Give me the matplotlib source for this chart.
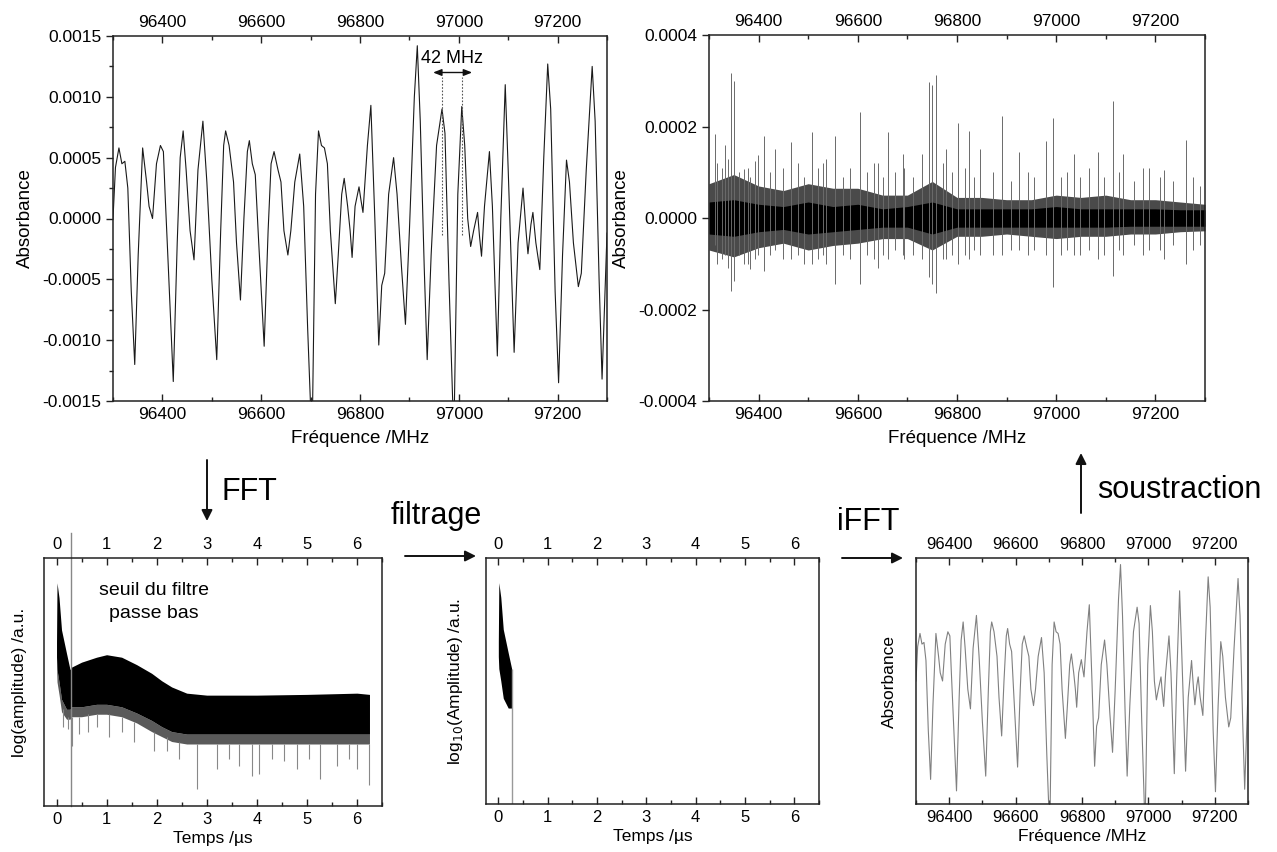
import matplotlib
matplotlib.use('Agg')
import matplotlib.pyplot as plt
import numpy as np
from matplotlib.ticker import MultipleLocator, FormatStrFormatter
from matplotlib.patches import FancyArrowPatch

plt.rcParams['font.family'] = ['Liberation Sans', 'DejaVu Sans']
plt.rcParams['axes.unicode_minus'] = False

# ---------------- data ----------------
# Absorption spectrum (MHz, absorbance x1e-3)
spec_freq = [96300, 96305, 96312, 96318, 96324, 96330, 96337, 96344, 96351, 96360,
             96368, 96373, 96380, 96388, 96396, 96402, 96406, 96412, 96422, 96430,
             96436, 96442, 96448, 96456, 96464, 96472, 96482, 96490, 96500, 96510,
             96518, 96524, 96528, 96535, 96544, 96550, 96558, 96565, 96572, 96576,
             96582, 96588, 96595, 96606, 96614, 96620, 96626, 96634, 96640, 96646,
             96654, 96660, 96668, 96678, 96686, 96694, 96700, 96704, 96710, 96716,
             96722, 96728, 96734, 96740, 96750, 96756, 96763, 96768, 96775, 96780,
             96784, 96790, 96798, 96802, 96806, 96815, 96822, 96830, 96838, 96844,
             96850, 96858, 96868, 96875, 96884, 96892, 96900, 96910, 96916, 96922,
             96930, 96936, 96944, 96955, 96966, 96972, 96980, 96988, 96991, 96998,
             97006, 97012, 97018, 97024, 97030, 97038, 97042, 97046, 97052, 97062,
             97068, 97078, 97085, 97094, 97100, 97112, 97120, 97130, 97136, 97140,
             97146, 97150, 97156, 97164, 97172, 97180, 97186, 97195, 97202, 97210,
             97218, 97224, 97232, 97242, 97248, 97258, 97270, 97276, 97284, 97290,
             97296, 97300]
spec_abs = [0.0, 0.42, 0.58, 0.45, 0.47, 0.25, -0.6, -1.20, -0.3, 0.58,
            0.3, 0.1, 0.0, 0.45, 0.6, 0.55, 0.15, -0.4, -1.34, -0.2,
            0.5, 0.72, 0.4, -0.1, -0.34, 0.4, 0.80, 0.3, -0.5, -1.16,
            -0.1, 0.6, 0.72, 0.6, 0.3, -0.2, -0.67, 0.0, 0.55, 0.64,
            0.45, 0.36, -0.2, -1.05, -0.1, 0.45, 0.55, 0.4, 0.3, -0.1,
            -0.30, -0.1, 0.3, 0.53, 0.1, -0.9, -1.55, -1.55, 0.2, 0.72,
            0.6, 0.58, 0.45, -0.1, -0.70, -0.3, 0.2, 0.33, 0.1, -0.1,
            -0.32, 0.1, 0.26, 0.15, 0.05, 0.6, 0.93, 0.0, -1.04, -0.55,
            -0.45, 0.2, 0.50, 0.2, -0.4, -0.87, -0.1, 1.0, 1.42, 0.8,
            -0.4, -1.16, -0.3, 0.6, 0.90, 0.7, -0.5, -1.55, -1.55, 0.2,
            0.92, 0.6, 0.0, -0.23, -0.1, 0.05, -0.15, -0.31, 0.1, 0.55,
            0.1, -1.13, 0.0, 1.10, 0.4, -1.10, -0.2, 0.25, -0.1, -0.29,
            -0.05, 0.05, -0.2, -0.42, 0.5, 1.27, 0.9, -0.6, -1.35, -0.3,
            0.48, 0.3, -0.2, -0.56, -0.45, 0.4, 1.25, 0.8, -0.5, -1.32,
            -0.6, -0.12]
split_peaks = [96965, 97007]   # the two lines 42 MHz apart

# Residual after subtraction: noise band envelopes (x1e-4)
res_freq = [96300, 96350, 96400, 96450, 96500, 96550, 96600, 96650, 96700, 96750, 96800,
            96850, 96900, 96950, 97000, 97050, 97100, 97150, 97200, 97250, 97300]
res_out_top = [0.75, 0.95, 0.7, 0.6, 0.75, 0.65, 0.65, 0.5, 0.5, 0.8, 0.45,
               0.45, 0.4, 0.4, 0.5, 0.45, 0.5, 0.4, 0.4, 0.35, 0.3]
res_out_bot = [-0.7, -0.85, -0.65, -0.55, -0.7, -0.6, -0.55, -0.45, -0.45, -0.7, -0.4,
               -0.4, -0.35, -0.4, -0.45, -0.4, -0.4, -0.35, -0.35, -0.3, -0.28]
res_in_top = [0.35, 0.4, 0.3, 0.25, 0.35, 0.25, 0.3, 0.2, 0.25, 0.35, 0.2,
              0.2, 0.2, 0.2, 0.25, 0.2, 0.2, 0.2, 0.2, 0.18, 0.18]
res_in_bot = [-0.35, -0.4, -0.3, -0.25, -0.35, -0.3, -0.25, -0.2, -0.2, -0.35, -0.2,
              -0.2, -0.2, -0.2, -0.2, -0.2, -0.2, -0.18, -0.18, -0.18, -0.18]
# Residual spikes (MHz, top x1e-4, bottom x1e-4)
spike_freq = [96313, 96333, 96345, 96350, 96370, 96383, 96398, 96411, 96434, 96466,
              96508, 96529, 96554, 96604, 96640, 96660, 96692, 96729, 96744, 96750,
              96757, 96777, 96803, 96825, 96847, 96890, 96925, 96980, 96994, 97035,
              97085, 97115, 97135, 97187, 97218, 97261,
              96317, 96326, 96339, 96361, 96379, 96392, 96422, 96449, 96479, 96492,
              96519, 96536, 96571, 96584, 96619, 96632, 96650, 96676, 96694, 96711,
              96772, 96790, 96816, 96834, 96873, 96908, 96943, 96956, 97009, 97022,
              97048, 97066, 97096, 97127, 97157, 97175, 97210, 97236, 97276, 97289]
spike_top = [1.84, 1.6, 3.17, 3.0, 1.07, 0.9, 1.38, 1.8, 1.5, 1.66,
             1.88, 1.2, 1.8, 2.31, 1.2, 1.89, 1.4, 1.4, 2.98, 2.9,
             3.13, 1.5, 2.08, 1.9, 1.5, 2.24, 1.45, 1.69, 2.19, 1.4,
             1.45, 2.55, 1.4, 1.1, 1.05, 1.71,
             1.2, 1.1, 1.3, 1.0, 1.1, 1.25, 1.0, 1.1, 1.2, 0.9,
             1.1, 1.3, 0.9, 1.1, 1.0, 1.2, 0.9, 1.0, 1.1, 0.9,
             1.2, 1.0, 1.1, 0.9, 1.0, 0.8, 1.0, 0.9, 0.9, 1.0,
             0.9, 1.1, 0.9, 1.0, 0.8, 1.1, 0.9, 0.8, 0.9, 0.7]
spike_bot = [-0.6, -0.8, -1.6, -1.37, -1.0, -1.12, -0.8, -1.15, -0.7, -0.9,
             -1.0, -0.8, -1.45, -1.45, -1.1, -0.9, -0.8, -0.9, -1.3, -1.45,
             -1.64, -0.9, -1.0, -0.9, -0.8, -0.8, -0.7, -0.8, -1.5, -0.8,
             -0.9, -1.26, -0.8, -0.7, -0.9, -1.0,
             -1.0, -0.9, -1.1, -0.8, -1.0, -0.9, -0.8, -0.9, -0.8, -1.0,
             -0.9, -1.0, -0.8, -0.9, -0.8, -0.9, -0.8, -0.7, -0.9, -0.8,
             -0.9, -0.8, -0.8, -0.7, -0.8, -0.7, -0.8, -0.7, -0.8, -0.7,
             -0.8, -0.7, -0.8, -0.7, -0.6, -0.8, -0.7, -0.6, -0.7, -0.6]

# FFT magnitude (log, arbitrary units 0-10) versus time (us)
fft_t = [0.0, 0.01, 0.05, 0.1, 0.2, 0.27, 0.3, 0.5, 0.8, 1.0, 1.3, 1.6, 1.9, 2.1,
         2.3, 2.6, 3.0, 4.0, 5.0, 6.0, 6.25]
fft_upper = [6.6, 9.0, 8.4, 7.1, 6.15, 5.5, 5.6, 5.8, 6.0, 6.1, 6.0, 5.7, 5.35, 5.05,
             4.8, 4.55, 4.47, 4.47, 4.5, 4.55, 4.5]
fft_lower = [6.0, 5.5, 5.0, 4.3, 3.9, 3.9, 4.0, 4.0, 4.1, 4.1, 4.0, 3.75, 3.45, 3.2,
             3.0, 2.9, 2.9, 2.9, 2.9, 2.9, 2.9]
fft_fringe = [5.6, 5.0, 4.5, 3.8, 3.5, 3.5, 3.6, 3.6, 3.7, 3.7, 3.6, 3.35, 3.0, 2.8,
              2.6, 2.5, 2.5, 2.5, 2.5, 2.5, 2.5]
fft_spike_t = [0.12, 0.22, 0.3, 0.45, 0.62, 0.8, 1.05, 1.3, 1.55, 1.95, 2.2, 2.45,
               2.8, 3.2, 3.45, 3.65, 3.9, 4.05, 4.3, 4.55, 4.8, 5.05, 5.27, 5.6,
               5.85, 6.0, 6.25]
fft_spike_high = [3.9, 3.6, 3.6, 3.6, 3.7, 3.7, 3.7, 3.6, 3.4, 3.0, 2.8, 2.6,
                  2.5, 2.5, 2.5, 2.5, 2.5, 2.5, 2.5, 2.5, 2.5, 2.5, 2.5, 2.5,
                  2.5, 2.5, 2.5]
fft_spike_low = [3.2, 3.1, 2.4, 2.9, 3.0, 3.2, 2.8, 3.0, 2.6, 2.2, 2.2, 1.9,
                 0.67, 1.5, 1.9, 1.6, 1.2, 1.3, 1.9, 1.8, 1.5, 1.9, 1.1, 1.6,
                 1.9, 1.5, 0.85]
cutoff_t = 0.28        # low-pass threshold (us)

# ---------------- figure ----------------
W, H = 1277, 852
fig = plt.figure(figsize=(W / 100, H / 100), dpi=100)


def add_ax(x0, y0, x1, y1):
    return fig.add_axes([x0 / W, 1 - y1 / H, (x1 - x0) / W, (y1 - y0) / H])


def style(ax, xmaj, xmin, fs, yticks=True, ymaj=None, ymin=None):
    for s in ax.spines.values():
        s.set_linewidth(1.1)
        s.set_color('#222222')
    ax.xaxis.set_major_locator(MultipleLocator(xmaj))
    ax.xaxis.set_minor_locator(MultipleLocator(xmin))
    ax.tick_params(axis='x', which='both', direction='in', top=True, bottom=True,
                   labeltop=True, labelbottom=True, labelsize=fs, width=1.0,
                   color='#222222', pad=4)
    ax.tick_params(axis='x', which='major', length=5)
    ax.tick_params(axis='x', which='minor', length=3)
    if yticks:
        ax.yaxis.set_major_locator(MultipleLocator(ymaj))
        if ymin:
            ax.yaxis.set_minor_locator(MultipleLocator(ymin))
        ax.tick_params(axis='y', which='both', direction='out', left=True, right=False,
                       labelsize=fs, width=1.0, color='#222222')
        ax.tick_params(axis='y', which='major', length=5)
        ax.tick_params(axis='y', which='minor', length=3)
        ax.yaxis.set_major_formatter(FormatStrFormatter('%.4f'))
    else:
        ax.tick_params(axis='y', which='both', left=False, right=False,
                       labelleft=False)


sa = np.array(spec_abs) * 1e-3

# Panel 1: spectrum
ax1 = add_ax(113, 36, 607, 401)
ax1.plot(spec_freq, sa, color='#1a1a1a', lw=0.8)
ax1.set_xlim(96300, 97300)
ax1.set_ylim(-0.0015, 0.0015)
style(ax1, 200, 100, 12.5, True, 0.0005, 0.00025)
ax1.set_xlabel('Fréquence /MHz', fontsize=13.5, labelpad=6)
ax1.set_ylabel('Absorbance', fontsize=13.5, labelpad=6)
for fp in split_peaks:
    ax1.plot([fp, fp], [-0.000135, 0.00116], ls=(0, (1.5, 1.5)), color='#555555', lw=0.8)
ax1.annotate('', xy=(split_peaks[0] - 17, 0.0012), xytext=(split_peaks[1] + 20, 0.0012),
             arrowprops=dict(arrowstyle='<|-|>,head_length=0.5,head_width=0.2', lw=1.0,
                             color='#111111', shrinkA=0, shrinkB=0))
ax1.text(np.mean(split_peaks), 0.00128, '42 MHz', ha='center', va='baseline', fontsize=13)

# Panel 2: residual
ax2 = add_ax(709, 35, 1205, 401)
ax2.fill_between(res_freq, np.array(res_out_bot) * 1e-4, np.array(res_out_top) * 1e-4,
                 color='#4a4a4a', lw=0)
ax2.vlines(spike_freq, np.array(spike_bot) * 1e-4, np.array(spike_top) * 1e-4,
           color='#6a6a6a', lw=0.7)
ax2.fill_between(res_freq, np.array(res_in_bot) * 1e-4, np.array(res_in_top) * 1e-4,
                 color='#000000', lw=0)
ax2.set_xlim(96300, 97300)
ax2.set_ylim(-0.0004, 0.0004)
style(ax2, 200, 100, 12.5, True, 0.0002, None)
ax2.set_xlabel('Fréquence /MHz', fontsize=13.5, labelpad=6)
ax2.set_ylabel('Absorbance', fontsize=13.5, labelpad=6)

# Panel 3: FFT
ax3 = add_ax(44, 558, 382, 806)
ax3.fill_between(fft_t, fft_fringe, fft_lower, color='#5a5a5a', lw=0)
ax3.vlines(fft_spike_t, fft_spike_low, fft_spike_high, color='#888888', lw=0.8)
ax3.fill_between(fft_t, fft_lower, fft_upper, color='#000000', lw=0)
ax3.axvline(0.29, ymin=0, ymax=1.1, color='#888888', lw=1.0, clip_on=False)
ax3.set_xlim(-0.25, 6.5)
ax3.set_ylim(0, 10)
style(ax3, 1, 0.5, 12, yticks=False)
ax3.set_xlabel('Temps /µs', fontsize=12.5, labelpad=3)
ax3.set_ylabel('log(amplitude) /a.u.', fontsize=12.5, labelpad=12)
ax3.text(1.95, 8.5, 'seuil du filtre', ha='center', va='baseline', fontsize=14)
ax3.text(1.95, 7.6, 'passe bas', ha='center', va='baseline', fontsize=14)

# Panel 4: filtered FFT
ax4 = add_ax(486, 558, 819, 804)
tt = np.array(fft_t)
keep = tt <= cutoff_t
ax4.fill_between(tt[keep], np.array(fft_lower)[keep], np.array(fft_upper)[keep],
                 color='#000000', lw=0)
ax4.vlines([cutoff_t], 0, np.array(fft_upper)[keep][-1], color='#999999', lw=1.0)
ax4.set_xlim(-0.25, 6.5)
ax4.set_ylim(0, 10)
style(ax4, 1, 0.5, 12, yticks=False)
ax4.set_xlabel('Temps /µs', fontsize=12.5, labelpad=3)
ax4.set_ylabel('log$_{10}$(Amplitude) /a.u.', fontsize=12.5, labelpad=15)

# Panel 5: iFFT (filtered spectrum)
ax5 = add_ax(916, 558, 1248, 804)
ax5.plot(spec_freq, sa, color='#808080', lw=0.8)
ax5.set_xlim(96300, 97300)
ax5.set_ylim(-0.0015, 0.0015)
style(ax5, 200, 100, 12, yticks=False)
ax5.set_xlabel('Fréquence /MHz', fontsize=12.5, labelpad=3)
ax5.set_ylabel('Absorbance', fontsize=12.5, labelpad=14)


# ---------------- process arrows and labels ----------------
def arrow(x0, y0, x1, y1):
    fig.add_artist(FancyArrowPatch((x0 / W, 1 - y0 / H), (x1 / W, 1 - y1 / H),
                                   transform=fig.transFigure, arrowstyle='-|>',
                                   mutation_scale=16, lw=1.4, color='#111111',
                                   shrinkA=0, shrinkB=0))


def label(x, y, s):
    fig.text(x / W, 1 - y / H, s, fontsize=22, ha='left', va='baseline')


arrow(207, 460, 207, 521)
label(222, 500, 'FFT')
arrow(405, 556, 476, 556)
label(391, 524, 'filtrage')
arrow(842, 558, 903, 558)
label(837, 530, 'iFFT')
arrow(1081, 513, 1081, 453)
label(1097, 498, 'soustraction')

fig.savefig('out.png', dpi=100)
